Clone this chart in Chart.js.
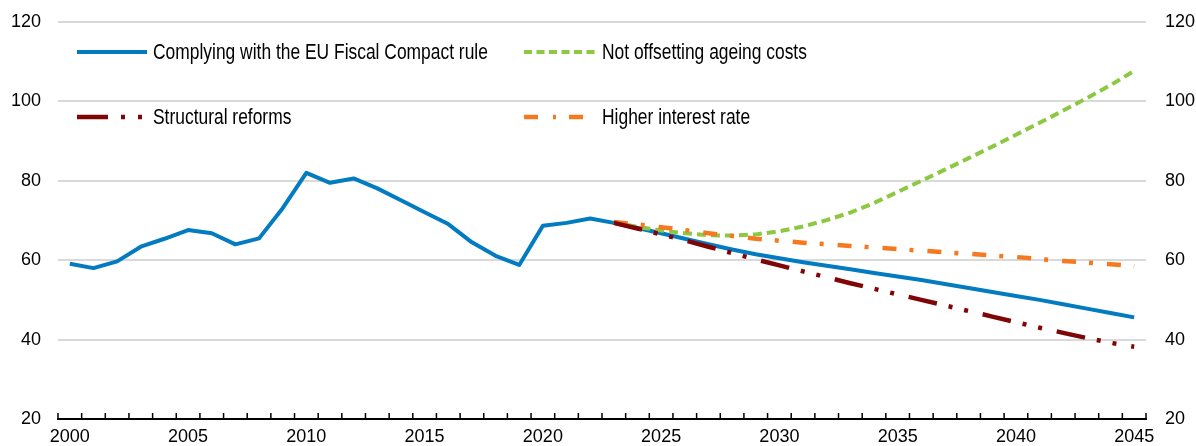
<!DOCTYPE html>
<html><head><meta charset="utf-8">
<script src="https://cdn.jsdelivr.net/npm/chart.js@4.4.1/dist/chart.umd.min.js"></script>
<style>
html,body{margin:0;padding:0;background:#fff;}
#wrap{position:relative;width:1196px;height:446px;overflow:hidden;}
canvas{display:block;}
#legsvg{position:absolute;left:0;top:0;pointer-events:none;}
.leg{position:absolute;font-family:"Liberation Sans",Arial,sans-serif;font-size:21.5px;color:#000;white-space:nowrap;line-height:22px;transform:scaleX(0.81);transform-origin:0 50%;}
</style></head><body>
<div id="wrap">
<canvas id="c" width="1196" height="446"></canvas>
<svg id="legsvg" width="1196" height="446">
  <line x1="77" y1="52" x2="147" y2="52" stroke="#037BC1" stroke-width="4"/>
  <line x1="524" y1="52" x2="595" y2="52" stroke="#8CC841" stroke-width="4" stroke-dasharray="8 4.5"/>
  <line x1="77" y1="117" x2="142" y2="117" stroke="#7F0506" stroke-width="4.5" stroke-dasharray="31 13 4 13 4 100"/>
  <line x1="524" y1="117" x2="584" y2="117" stroke="#F47920" stroke-width="4.5" stroke-dasharray="14 15 3 13 14 100"/>
</svg>
<div class="leg" style="left:153px;top:41px;">Complying with the EU Fiscal Compact rule</div>
<div class="leg" style="left:602px;top:41px;">Not offsetting ageing costs</div>
<div class="leg" style="left:153px;top:106px;">Structural reforms</div>
<div class="leg" style="left:602px;top:106px;">Higher interest rate</div>
</div>
<script>
const years = ['2000','2001','2002','2003','2004','2005','2006','2007','2008','2009',
  '2010','2011','2012','2013','2014','2015','2016','2017','2018','2019',
  '2020','2021','2022','2023','2024','2025','2026','2027','2028','2029',
  '2030','2031','2032','2033','2034','2035','2036','2037','2038','2039',
  '2040','2041','2042','2043','2044','2045'];
const tickLabels = ['2000','2005','2010','2015','2020','2025','2030','2035','2040','2045'];
const yTicks = [20,40,60,80,100,120];

const complying = [59.1,58.0,59.7,63.4,65.4,67.6,66.8,64.0,65.5,73.1,
  82.0,79.5,80.6,78.1,75.1,72.1,69.1,64.5,61.1,58.8,
  68.7,69.4,70.5,69.4,68.1,66.8,65.4,64.0,62.7,61.5,
  60.5,59.5,58.6,57.7,56.8,55.9,55.0,54.0,53.0,52.0,
  51.0,50.0,48.9,47.8,46.7,45.6];

const projectionYears = ['2023','2024','2025','2026','2027','2028','2029','2030','2031','2032',
  '2033','2034','2035','2036','2037','2038','2039','2040','2041','2042','2043','2044','2045'];
const notOffsetting = [69.5,68.4,67.5,66.8,66.3,66.2,66.5,67.3,68.5,70.1,
  72.0,74.4,77.2,80.0,82.8,85.7,88.6,91.6,94.6,97.7,100.8,104.1,107.7];
const structural = [69.4,68.0,66.5,65.0,63.4,61.8,60.2,58.7,57.2,55.7,
  54.2,52.8,51.4,50.0,48.6,47.2,45.8,44.4,43.0,41.7,40.4,39.2,38.2];
const higherRate = [69.6,69.0,68.3,67.6,66.8,66.1,65.4,64.9,64.4,64.0,
  63.6,63.2,62.8,62.4,62.0,61.6,61.2,60.8,60.3,59.8,59.4,59.0,58.5];

const FONT = '"Liberation Sans",Arial,sans-serif';
const proj = vals => projectionYears.map((y,i)=>({x:y,y:vals[i]}));

const tickMarks = {
  id:'tickMarks',
  afterDraw(chart){
    const xs = chart.scales.x, ctx = chart.ctx;
    const n = xs.ticks.length;
    const step = (xs.right - xs.left)/n;
    ctx.save();
    ctx.strokeStyle = '#000';
    ctx.lineWidth = 1.5;
    ctx.beginPath();
    for(let i=0;i<=n;i++){
      const x = xs.left + i*step;
      ctx.moveTo(x, xs.top);
      ctx.lineTo(x, xs.top-6);
    }
    ctx.stroke();
    ctx.restore();
  }
};

new Chart(document.getElementById('c'), {
  type:'line',
  data:{
    labels: years,
    datasets:[
      {label:'Complying with the EU Fiscal Compact rule', data:complying, borderColor:'#037BC1', borderWidth:4, order:5},
      {label:'Not offsetting ageing costs', data:proj(notOffsetting), borderColor:'#8CC841', borderWidth:4, borderDash:[9,5], order:4},
      {label:'Higher interest rate', data:proj(higherRate), borderColor:'#F47920', borderWidth:4.5, borderDash:[14,13,4,14], order:3},
      {label:'Structural reforms', data:proj(structural), borderColor:'#7F0506', borderWidth:4.5, borderDash:[29,12,4,12,4,15], order:2}
    ]
  },
  options:{
    responsive:false,
    animation:false,
    devicePixelRatio:1,
    layout:{autoPadding:false, padding:{top:22,left:0,right:0,bottom:0}},
    elements:{point:{radius:0,hoverRadius:0}, line:{tension:0, fill:false, borderCapStyle:'butt', borderJoinStyle:'round'}},
    plugins:{legend:{display:false}, tooltip:{enabled:false}},
    scales:{
      x:{
        type:'category', offset:true,
        grid:{display:false, drawTicks:false},
        border:{display:true, color:'#000', width:2},
        ticks:{autoSkip:false, maxRotation:0, minRotation:0, padding:7, color:'#000',
          font:{family:FONT, size:18},
          callback:function(v){ const l=this.getLabelForValue(v); return tickLabels.includes(l)?l:''; }},
        afterFit(a){ a.height = 27; }
      },
      y:{
        position:'left', min:20, max:120,
        afterBuildTicks(a){ a.ticks = yTicks.map(v=>({value:v})); },
        grid:{color:'#d9d9d9', lineWidth:2, drawTicks:true, tickLength:17, tickColor:'rgba(0,0,0,0)'},
        border:{display:false},
        ticks:{padding:0, color:'#000', font:{family:FONT, size:18}},
        afterFit(a){ a.width = 58; }
      },
      y2:{
        position:'right', min:20, max:120,
        afterBuildTicks(a){ a.ticks = yTicks.map(v=>({value:v})); },
        grid:{display:true, drawOnChartArea:false, drawTicks:true, tickLength:19, tickColor:'rgba(0,0,0,0)'},
        border:{display:false},
        ticks:{padding:0, color:'#000', font:{family:FONT, size:18}},
        afterFit(a){ a.width = 50; }
      }
    }
  },
  plugins:[tickMarks]
});
</script>
</body></html>
